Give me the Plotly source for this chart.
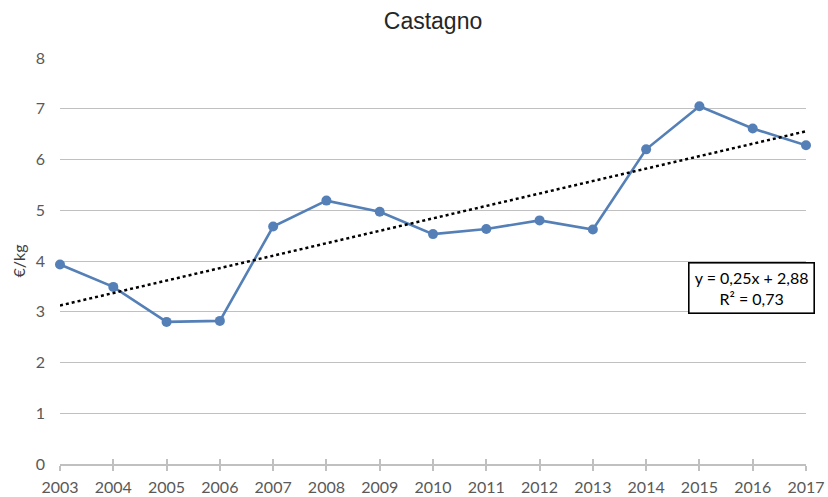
import numpy as np
import plotly.graph_objects as go

# Chestnut price per year (€/kg)
years = [2003, 2004, 2005, 2006, 2007, 2008, 2009, 2010,
         2011, 2012, 2013, 2014, 2015, 2016, 2017]
prices = [3.93, 3.49, 2.80, 2.82, 4.68, 5.19, 4.97, 4.53,
          4.63, 4.80, 4.62, 6.20, 7.05, 6.61, 6.28]
y_ticks = [0, 1, 2, 3, 4, 5, 6, 7, 8]

# Linear trend over the period index 1..n
idx = np.arange(1, len(years) + 1)
slope, intercept = np.polyfit(idx, prices, 1)
fitted = slope * idx + intercept
ss_res = np.sum((np.array(prices) - fitted) ** 2)
ss_tot = np.sum((np.array(prices) - np.mean(prices)) ** 2)
r2 = 1 - ss_res / ss_tot

def it(v):
    return f"{v:.2f}".replace(".", ",")

eq_text = f"y = {it(slope)}x + {it(intercept)}<br>R² = {it(r2)}"

BLUE = "#5580B7"
GRID = "#C0C0C0"
FONT = "Lato"
TITLE_FONT = "Liberation Sans"

fig = go.Figure()
fig.add_trace(go.Scatter(
    x=years, y=prices, mode="lines+markers",
    line=dict(color=BLUE, width=2.6),
    marker=dict(color=BLUE, size=10),
    cliponaxis=False, showlegend=False,
))
fig.add_trace(go.Scatter(
    x=[years[0], years[-1]], y=[fitted[0], fitted[-1]], mode="lines",
    line=dict(color="black", width=2.5, dash="dot"),
    cliponaxis=False, showlegend=False,
))

fig.update_layout(
    width=828, height=497,
    margin=dict(l=60, r=22, t=58, b=33),
    paper_bgcolor="white", plot_bgcolor="white",
    font=dict(family=FONT, size=16, color="#595959"),
    title=dict(text="Castagno", x=0.5, xref="paper", xanchor="center",
               y=0.958, yanchor="middle", yref="container",
               font=dict(family=TITLE_FONT, size=23, color="#262626")),
    xaxis=dict(
        range=[years[0], years[-1]], tickmode="array", tickvals=years,
        ticktext=[str(y) for y in years], automargin=False,
        showgrid=False, showline=True, linecolor=GRID, linewidth=1.5,
        ticks="outside", ticklen=5, tickcolor=GRID, tickwidth=1.5,
        ticklabelstandoff=3, zeroline=False,
    ),
    xaxis2=dict(
        range=[years[0], years[-1]], overlaying="x", tickmode="array",
        tickvals=years, showticklabels=False, showgrid=False,
        showline=False, ticks="inside", ticklen=5, tickcolor=GRID,
        tickwidth=1.5, side="bottom", zeroline=False, automargin=False,
    ),
    yaxis=dict(
        range=[0, 8], tickmode="array", tickvals=y_ticks, automargin=False,
        showgrid=True, gridcolor=GRID, gridwidth=1.3,
        showline=False, zeroline=False, ticks="", ticklabelstandoff=14,
        title=dict(text="€/kg", standoff=6,
                   font=dict(family=FONT, size=16, color="#404040")),
    ),
)

# invisible trace so the secondary x axis (inner tick marks) is drawn
fig.add_trace(go.Scatter(x=[years[0]], y=[0], xaxis="x2", mode="markers",
                         marker=dict(opacity=0), showlegend=False,
                         hoverinfo="skip"))

fig.add_annotation(
    text=eq_text, xref="paper", yref="paper",
    x=(751 - 60) / 746, y=(464 - 287.5) / 406,
    xanchor="center", yanchor="middle", showarrow=False, align="center",
    font=dict(family=FONT, size=16, color="black"),
    bgcolor="white", bordercolor="black", borderwidth=1.6, borderpad=3,
    width=118, height=43,
)

fig.write_html("out.html")
